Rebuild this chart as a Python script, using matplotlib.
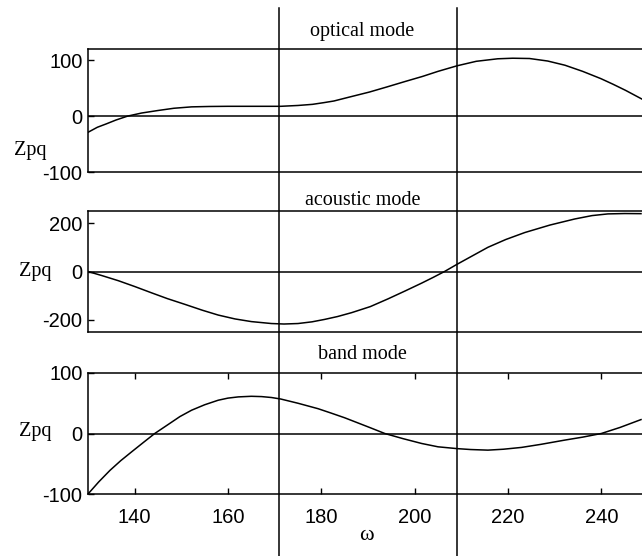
import matplotlib
matplotlib.use('Agg')
import matplotlib.pyplot as plt
from matplotlib import transforms
from matplotlib.lines import Line2D

plt.rcParams['font.family'] = ['Liberation Sans', 'DejaVu Sans']
plt.rcParams['axes.unicode_minus'] = False

# optical mode
omega_opt = [130, 132, 133.9, 136, 138.5, 141.5, 145, 148.4, 152.2, 156, 160, 171.3,
             175, 178.1, 180.5, 182.7, 186, 190.3, 194, 198, 201.7, 205, 209.1,
             213.2, 217.8, 221, 224.6, 228.5, 232.2, 236, 239.9, 242.5, 245.2, 248.8]
zpq_opt = [-29, -20, -14, -7, 0, 5.5, 10, 14, 16.5, 17.2, 17.5, 17.5,
           19, 21, 24, 27, 34, 43, 52, 62, 71, 80, 90,
           98, 102.5, 103.5, 103, 98.5, 91, 80, 67, 57, 46, 30]

# acoustic mode
omega_ac = [130, 133, 136.5, 140, 143.6, 147, 150.8, 154.5, 157.9, 161.5, 165, 169.3,
            172, 175, 178, 180.7, 183.5, 186.5, 190.5, 194.3, 198, 201.5, 204,
            206.4, 209.1, 212.4, 215.7, 219.5, 223.6, 229, 234.3, 238, 241.4, 245, 248.5]
zpq_ac = [0, -17, -38, -62, -88, -112, -136, -160, -180, -196, -207, -215,
          -217, -215, -208, -198, -186, -170, -145, -113, -80, -48, -24,
          0, 30, 65, 100, 132, 161, 192, 217, 231, 238, 239.5, 239]

# band mode
omega_band = [130, 132.3, 134.7, 137, 139.4, 142, 144.3, 147.2, 149.7, 152.2, 155,
              157.9, 160, 162.2, 165, 167.2, 169.3, 171.3, 175, 179.3, 182, 185,
              188, 190.5, 193.6, 197.5, 201.5, 205, 209.1, 212, 215.7, 219, 222.9,
              227, 232.1, 236, 240, 244, 248.5]
zpq_band = [-100, -80, -61, -45, -30, -14, 0, 15, 28, 38.5, 47.5,
            55, 58.5, 60.5, 61.5, 61, 59.5, 57, 50, 41, 34, 26,
            17, 9.5, 0, -8.5, -16.5, -22, -25, -26.5, -27.5, -26, -23,
            -18, -11, -6, 0, 10, 23]

titles = ['optical mode', 'acoustic mode', 'band mode']
yticks = [[-100, 0, 100], [-200, 0, 200], [-100, 0, 100]]
ylims = [(-100, 120), (-250, 250), (-100, 100)]
xticks = [140, 160, 180, 200, 220, 240]
vlines = [171, 209]

fig = plt.figure(figsize=(6.42, 5.56), dpi=100)

left = 88 / 642
width = 560 / 642
boxes = [(49, 172), (211, 332), (373, 494)]   # top/bottom in pixels
title_off = [13, 6, 14]                        # baseline above top, pixels
zpq_pos = [(14, 155), (19, 276), (19, 436)]

axes = []
for i, (t, b) in enumerate(boxes):
    ax = fig.add_axes([left, 1 - b / 556, width, (b - t) / 556])
    axes.append(ax)

data = [(omega_opt, zpq_opt), (omega_ac, zpq_ac), (omega_band, zpq_band)]

for i, ax in enumerate(axes):
    x, y = data[i]
    ax.plot(x, y, color='black', lw=1.1)
    ax.axhline(0, color='black', lw=1.1)
    ax.set_xlim(130, 250)
    ax.set_ylim(*ylims[i])
    ax.set_yticks(yticks[i])
    ax.tick_params(axis='y', direction='in', length=4, width=1, labelsize=14.5, pad=4)
    for s in ax.spines.values():
        s.set_linewidth(1.1)
    if i < 2:
        ax.set_xticks([])
    else:
        ax.set_xticks(xticks)
        ax.tick_params(axis='x', direction='in', length=4, width=1, labelsize=14.5,
                       top=True, pad=10)
    ax.annotate(titles[i], xy=(0.49, 1), xycoords='axes fraction',
                xytext=(0, title_off[i] * 0.72), textcoords='offset points',
                ha='center', va='baseline', fontsize=14.5, family='Liberation Serif')
    zx, zy = zpq_pos[i]
    fig.text(zx / 642, 1 - zy / 556, 'Zpq', ha='left', va='baseline',
             fontsize=14.5, family='Liberation Serif')

fig.text(366 / 642, 1 - 540 / 556, '\u03c9', ha='center', va='baseline',
         fontsize=16, family='Liberation Serif')

trans = transforms.blended_transform_factory(axes[2].transData, fig.transFigure)
for v in vlines:
    fig.add_artist(Line2D([v, v], [0, 1 - 8 / 556], transform=trans,
                          color='black', lw=1.1))

fig.savefig('out.png', dpi=100)
